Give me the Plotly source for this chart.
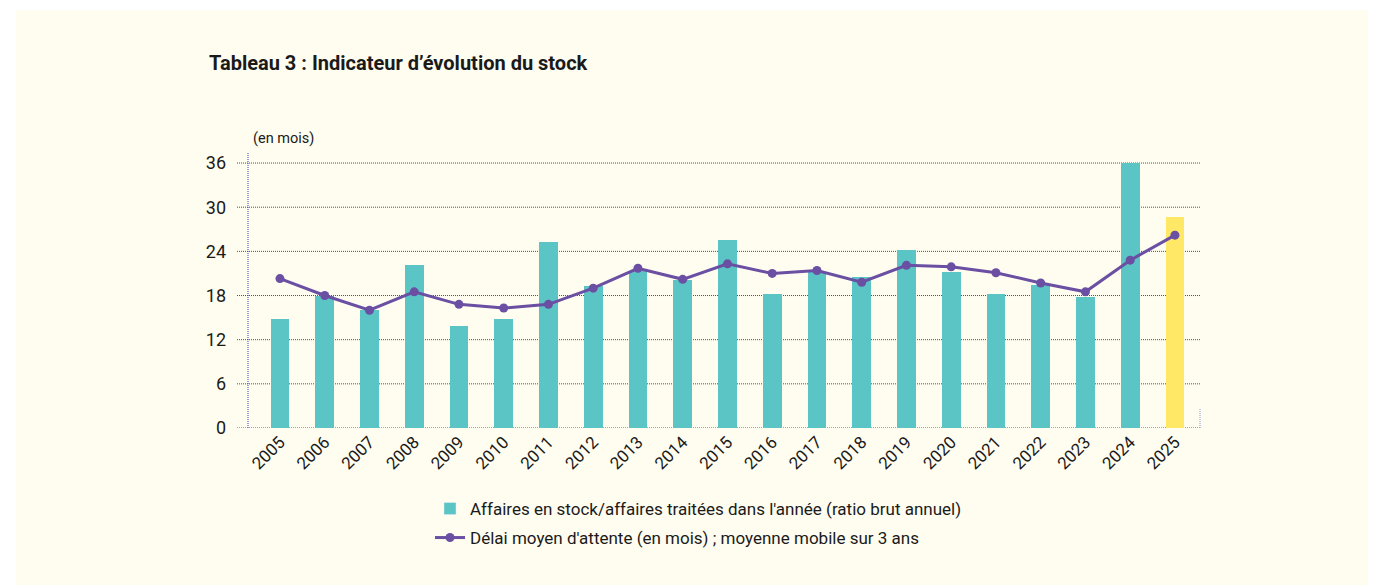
import plotly.graph_objects as go

_PANEL = "#FFFDF0"
_GRID = "#3D44C4"
_TEAL = "#5BC4C4"
_YELLOW = "#FFE866"
_PURPLE = "#6A4FA3"
_TEXT = "#1A1A1A"
_FONT = "Roboto, Arial, sans-serif"

years = [str(y) for y in range(2005, 2026)]
ratio_stock = [14.8, 18.0, 16.0, 22.1, 13.9, 14.8, 25.3, 19.3, 21.4, 20.1, 25.5,
               18.2, 21.2, 20.5, 24.2, 21.2, 18.2, 19.4, 17.8, 36.0, 28.7]
delai_moyen = [20.3, 18.0, 16.0, 18.5, 16.8, 16.3, 16.8, 19.0, 21.7, 20.2, 22.3,
               21.0, 21.4, 19.8, 22.1, 21.9, 21.1, 19.7, 18.5, 22.8, 26.2]
y_ticks = [0, 6, 12, 18, 24, 30, 36]

bar_colors = [_TEAL] * (len(years) - 1) + [_YELLOW]
LABEL_BAR = "Affaires en stock/affaires traitées dans l'année (ratio brut annuel)"
LABEL_LINE = "Délai moyen d'attente (en mois) ; moyenne mobile sur 3 ans"

fig = go.Figure()
fig.add_trace(go.Bar(
    x=list(range(len(years))),
    y=ratio_stock,
    width=0.42,
    marker=dict(color=bar_colors, line=dict(width=0)),
    name=LABEL_BAR,
    showlegend=False,
))
# legend swatch in teal (the bar trace has mixed colours)
fig.add_trace(go.Bar(
    x=[None], y=[None],
    marker=dict(color=_TEAL),
    name=LABEL_BAR,
    legend="legend",
))
fig.add_trace(go.Scatter(
    x=list(range(len(years))),
    y=delai_moyen,
    mode="lines+markers",
    line=dict(color=_PURPLE, width=3),
    marker=dict(color=_PURPLE, size=9),
    name=LABEL_LINE,
    legend="legend2",
))

# the page body adds an 8px offset, so layout pixels are measured minus 8
OFF = 8
W, H = 1376, 585
L, R, T, B = 237 - OFF, W - (1200 - OFF), 152 - OFF, H - (428 - OFF)
pw, ph = W - L - R, H - T - B

def px_x(p):
    return (p - OFF - L) / pw

def px_y(p):
    return (H - B - (p - OFF)) / ph

DOTS = "1px,1px"

shapes = [
    dict(type="rect", xref="paper", yref="paper", layer="below",
         x0=px_x(16), x1=px_x(1390), y0=px_y(600), y1=px_y(10),
         fillcolor=_PANEL, line=dict(width=0)),
]
# dotted gridlines drawn as shapes (behind the bars)
for v in y_ticks:
    shapes.append(dict(type="line", xref="paper", yref="y", layer="below",
                       x0=0, x1=1, y0=v, y1=v,
                       line=dict(color=_GRID, width=1, dash=DOTS)))
shapes += [
    dict(type="line", xref="paper", yref="paper", layer="above",
         x0=px_x(248), x1=px_x(248), y0=0, y1=1,
         line=dict(color=_GRID, width=1, dash=DOTS)),
    dict(type="line", xref="paper", yref="paper", layer="above",
         x0=1, x1=1, y0=0, y1=px_y(408),
         line=dict(color="#9096D0", width=1, dash=DOTS)),
]

annotations = [
    dict(text="<b>Tableau 3 : Indicateur d’évolution du stock</b>",
         xref="paper", yref="paper", x=px_x(207), y=px_y(63),
         xanchor="left", yanchor="middle", showarrow=False,
         font=dict(size=20, color=_TEXT, family=_FONT)),
    dict(text="(en mois)",
         xref="paper", yref="paper", x=px_x(251), y=px_y(138),
         xanchor="left", yanchor="middle", showarrow=False,
         font=dict(size=14.5, color=_TEXT, family=_FONT)),
]

fig.update_layout(
    width=W, height=H,
    margin=dict(l=L, r=R, t=T, b=B),
    paper_bgcolor="white",
    plot_bgcolor="rgba(0,0,0,0)",
    font=dict(family=_FONT, color=_TEXT),
    shapes=shapes,
    annotations=annotations,
    bargap=0,
    xaxis=dict(
        range=[-0.96, 20.56],
        tickvals=list(range(len(years))),
        ticktext=years,
        tickangle=-45,
        tickfont=dict(size=17, color=_TEXT),
        showgrid=False, zeroline=False, showline=False,
        ticks="",
    ),
    yaxis=dict(
        range=[0, 37.5],
        tickvals=y_ticks,
        tickfont=dict(size=18, color=_TEXT),
        showgrid=False, zeroline=False, showline=False, ticks="",
        ticklabelstandoff=10,
    ),
    legend=dict(
        x=px_x(430), y=px_y(491), xanchor="left", yanchor="top",
        bgcolor="rgba(0,0,0,0)", font=dict(size=17, color=_TEXT),
    ),
    legend2=dict(
        x=px_x(430), y=px_y(520), xanchor="left", yanchor="top",
        bgcolor="rgba(0,0,0,0)", font=dict(size=17, color=_TEXT),
    ),
    showlegend=True,
)

fig.write_html("out.html")
